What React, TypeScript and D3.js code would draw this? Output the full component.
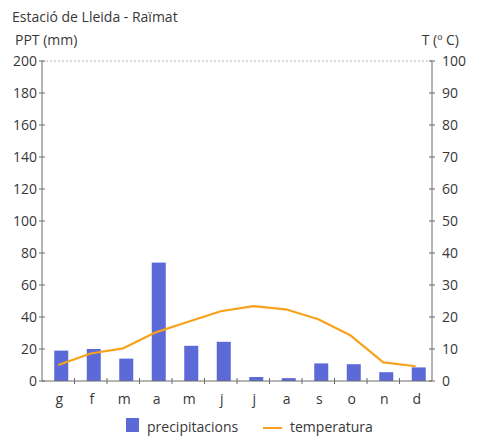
import React from "react";
import * as d3 from "d3";

const months = ["g", "f", "m", "a", "m", "j", "j", "a", "s", "o", "n", "d"];
const precipitation = [19, 20, 14, 74, 22, 24.5, 2.5, 1.8, 11, 10.5, 5.5, 8.5];
const temperature = [5, 8.6, 10.2, 15.2, 18.5, 21.8, 23.4, 22.4, 19.3, 14.2, 5.8, 4.6];
const ppTicks = [0, 20, 40, 60, 80, 100, 120, 140, 160, 180, 200];
const tTicks = [0, 10, 20, 30, 40, 50, 60, 70, 80, 90, 100];

const W = 477, H = 441;
const left = 42, right = 432, top = 61, bottom = 381;
const textColor = "#383838";
const axisColor = "#6a6a6a";
const barColor = "#5b6ad6";
const lineColor = "#f7a21b";
const font = "'Open Sans', 'DejaVu Sans', sans-serif";
const fs = 14;

export default function App() {
  const idx = months.map((_, i) => i);
  const x = d3.scaleBand<number>().domain(idx).range([left, right]).padding(0);
  const yP = d3.scaleLinear().domain([0, 200]).range([bottom, top]);
  const yT = d3.scaleLinear().domain([0, 100]).range([bottom, top]);
  const bw = 14;
  const barOff = 3;
  const line = d3
    .line<number>()
    .x((_, i) => (x(i) as number) + x.bandwidth() / 2)
    .y((d) => yT(d));

  return (
    <svg width={W} height={H} style={{ position: "absolute", left: 0, top: 0, background: "#fff" }}>
      <g fontFamily={font} fill={textColor}>
        <text x={12} y={22} fontSize={fs}>Estació de Lleida - Raïmat</text>
        <text x={15} y={45} fontSize={fs}>PPT (mm)</text>
        <text x={459} y={45} fontSize={fs} textAnchor="end">T (º C)</text>
      </g>
      <line x1={left} x2={right} y1={top} y2={top} stroke="#b5b5b5" strokeDasharray="2,2" strokeWidth={1} />
      {precipitation.map((v, i) => (
        <rect
          key={"b" + i}
          x={(x(i) as number) + x.bandwidth() / 2 - bw / 2 + barOff}
          y={yP(v)}
          width={bw}
          height={yP(0) - yP(v)}
          fill={barColor}
        />
      ))}
      <path d={line(temperature) || ""} fill="none" stroke={lineColor} strokeWidth={2.2} strokeLinejoin="round" />
      <line x1={left} x2={left} y1={top} y2={bottom} stroke={axisColor} />
      {ppTicks.map((t) => (
        <g key={"l" + t}>
          <line x1={left - 3} x2={left + 3} y1={yP(t)} y2={yP(t)} stroke={axisColor} />
          <text x={37} y={yP(t) + 5} fontSize={fs} textAnchor="end" fontFamily={font} fill={textColor}>{t}</text>
        </g>
      ))}
      <line x1={right} x2={right} y1={top} y2={bottom} stroke={axisColor} />
      {tTicks.map((t) => (
        <g key={"r" + t}>
          <line x1={right - 3} x2={right + 3} y1={yT(t)} y2={yT(t)} stroke={axisColor} />
          <text x={442} y={yT(t) + 5} fontSize={fs} fontFamily={font} fill={textColor}>{t}</text>
        </g>
      ))}
      <line x1={left} x2={right} y1={bottom} y2={bottom} stroke={axisColor} />
      {idx.slice(1).map((i) => (
        <line key={"bt" + i} x1={x(i) as number} x2={x(i) as number} y1={bottom - 3} y2={bottom + 3} stroke={axisColor} />
      ))}
      {months.map((m, i) => (
        <text
          key={"m" + i}
          x={(x(i) as number) + x.bandwidth() / 2 + 1}
          y={404}
          fontSize={fs}
          textAnchor="middle"
          fontFamily={font}
          fill={textColor}
        >
          {m}
        </text>
      ))}
      <rect x={126} y={418} width={13} height={14} fill={barColor} />
      <text x={147} y={432} fontSize={fs} fontFamily={font} fill={textColor}>precipitacions</text>
      <line x1={263} x2={282} y1={428} y2={428} stroke={lineColor} strokeWidth={2} />
      <text x={290} y={432} fontSize={fs} fontFamily={font} fill={textColor}>temperatura</text>
    </svg>
  );
}
